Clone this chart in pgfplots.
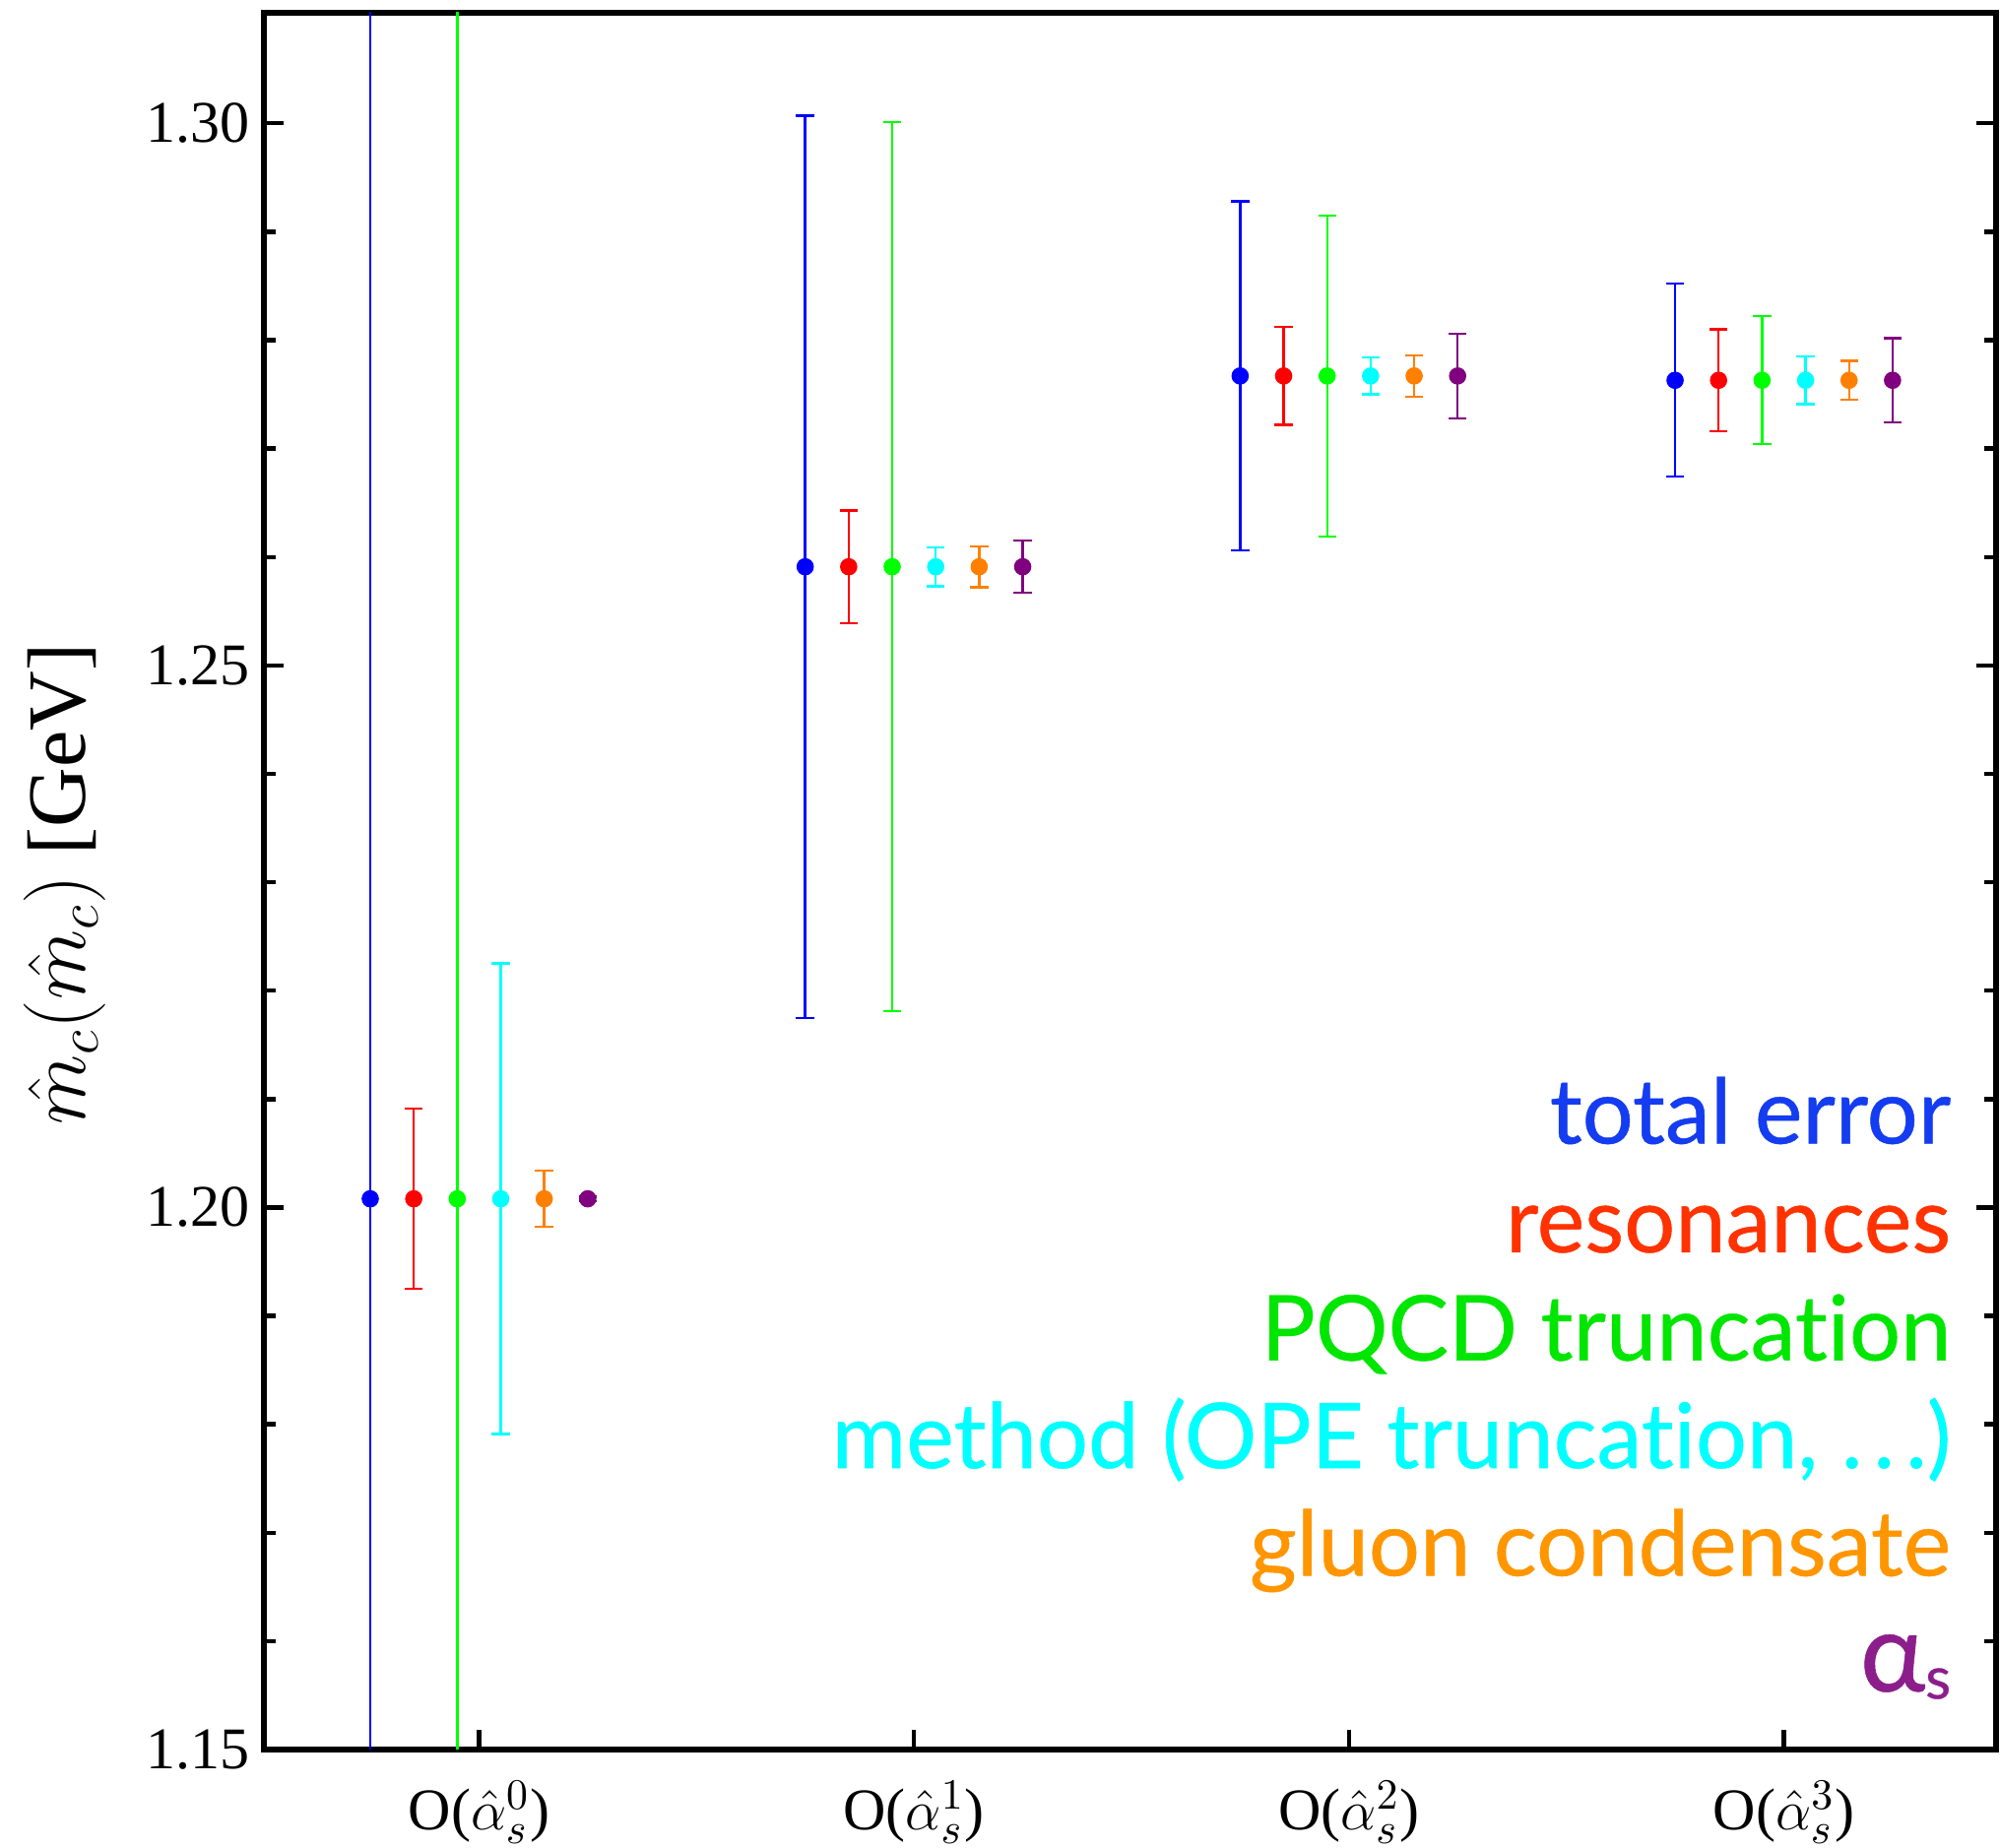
\documentclass[border=0pt]{standalone}
\usepackage{fontspec}
\setmainfont{Liberation Serif}
\newfontfamily\legfont[Ligatures=NoCommon, FakeBold=0.5]{Lato}
\usepackage{pgfplots}
\pgfplotsset{compat=1.18}
\definecolor{cb}{rgb}{0,0,1}
\definecolor{cr}{rgb}{1,0,0}
\definecolor{cg}{rgb}{0,1,0}
\definecolor{cc}{rgb}{0,1,1}
\definecolor{co}{rgb}{1,0.5,0}
\definecolor{cp}{rgb}{0.5,0,0.5}
\definecolor{tb}{RGB}{20,60,240}
\definecolor{tr}{RGB}{255,50,0}
\definecolor{tg}{RGB}{0,230,0}
\definecolor{tc}{RGB}{0,255,255}
\definecolor{to}{RGB}{255,150,0}
\definecolor{tp}{RGB}{140,30,140}
\pgfplotsset{
  eb/.style={only marks, mark=*, mark size=2pt, color=#1, mark options={draw=#1, fill=#1},
    error bars/.cd, y dir=both, y explicit,
    error bar style={line width=0.6pt, color=#1},
    error mark options={rotate=90, mark size=2.3pt, line width=0.6pt, color=#1}}
}
\begin{document}
\begin{tikzpicture}
\begin{axis}[
  scale only axis, width=439.75pt, height=441pt,
  xmin=-0.4945, xmax=3.488, ymin=1.15, ymax=1.3102,
  axis line style={line width=1.3pt},
  tick align=inside, xtick pos=lower, ytick pos=both,
  xtick={0,1,2,3},
  xticklabels={O($\hat{\alpha}_s^{0}$),O($\hat{\alpha}_s^{1}$),O($\hat{\alpha}_s^{2}$),O($\hat{\alpha}_s^{3}$)},
  xticklabel style={yshift=-4.5pt},
  ytick={1.15,1.20,1.25,1.30}, minor y tick num=4,
  major tick length=5pt, minor tick length=3pt,
  tick style={line width=1.1pt, black},
  /pgf/number format/assume math mode=true,
  yticklabel style={/pgf/number format/.cd, fixed, fixed zerofill, precision=2},
  ticklabel style={font=\fontsize{15}{15}\selectfont},
  clip=true,
]
\coordinate (O) at (rel axis cs:0,0);
\addplot[eb=cb] table[x=x,y=y,y error=e]{
x y e
-0.25 1.2008 0.2
0.75 1.2591 0.0416
1.75 1.2767 0.0161
2.75 1.2763 0.0089
};
\addplot[eb=cr] table[x=x,y=y,y error=e]{
x y e
-0.15 1.2008 0.0083
0.85 1.2591 0.0052
1.85 1.2767 0.0045
2.85 1.2763 0.0047
};
\addplot[eb=cg] table[x=x,y=y,y error=e]{
x y e
-0.05 1.2008 0.2
0.95 1.2591 0.0410
1.95 1.2767 0.0148
2.95 1.2763 0.0059
};
\addplot[eb=cc] table[x=x,y=y,y error=e]{
x y e
0.05 1.2008 0.0217
1.05 1.2591 0.0018
2.05 1.2767 0.0017
3.05 1.2763 0.0022
};
\addplot[eb=co] table[x=x,y=y,y error=e]{
x y e
0.15 1.2008 0.0026
1.15 1.2591 0.0019
2.15 1.2767 0.0019
3.15 1.2763 0.0018
};
\addplot[eb=cp] table[x=x,y=y,y error=e]{
x y e
0.25 1.2008 0.0002
1.25 1.2591 0.0024
2.25 1.2767 0.0039
3.25 1.2763 0.0039
};
\tikzset{lg/.style={anchor=base east, inner sep=0pt, font=\legfont\fontsize{23}{23}\selectfont, text=#1}}
\node[lg=tb] at (rel axis cs:0.9744,0.3489) {total error};
\node[lg=tr] at (rel axis cs:0.9744,0.2863) {resonances};
\node[lg=tg] at (rel axis cs:0.9744,0.2241) {PQCD truncation};
\node[lg=tc] at (rel axis cs:0.9744,0.1621) {method (OPE truncation,\ .\hspace{0.12em}.\hspace{0.12em}.)};
\node[lg=to] at (rel axis cs:0.9744,0.1001) {gluon condensate};
\node[lg=tp] at (rel axis cs:0.9744,0.0335) {{\fontsize{28}{28}\selectfont α}\raisebox{-0.08em}{\fontsize{15}{15}\selectfont s}};
\end{axis}
\node[rotate=90, anchor=center, font=\fontsize{21}{21}\selectfont] at ([shift={(-50.5pt,219.75pt)}]O) {$\hat{m}_c(\hat{m}_c)$ [GeV]};
\pgfresetboundingbox
\path (O) ++(-67pt,-24.75pt) rectangle ++(507.75pt,469pt);
\end{tikzpicture}
\end{document}
